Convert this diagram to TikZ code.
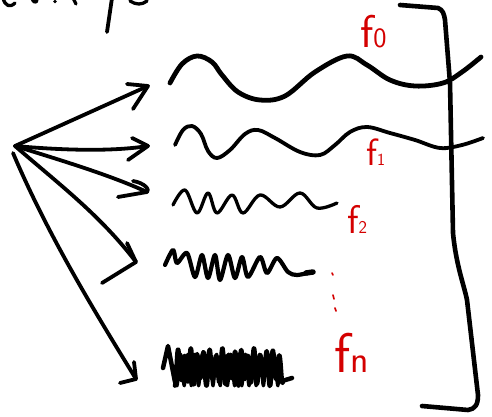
\documentclass[tikz,border=0pt]{standalone}
\usepackage{fontspec}
\definecolor{sketchred}{RGB}{212,0,0}
\begin{document}
\begin{tikzpicture}[x=1pt,y=-1pt, line cap=round, line join=round,
  ink/.style={draw=black, line width=3.8pt},
  thinink/.style={draw=black, line width=3.3pt},
  lbl/.style={text=sketchred, anchor=base west, inner sep=0pt, font=\sffamily},
  dotmark/.style={draw=sketchred, line width=1.6pt}]
\useasboundingbox[fill=white] (0,0) rectangle (492,417);

% cut-off handwriting at the top edge
\draw[thinink] (3,-2) .. controls (5,6) and (10,8) .. (15,3);
\draw[thinink] (32,-2) .. controls (33,2) and (35,3) .. (37,1);
\fill (55,1.5) circle (1.8);
\draw[thinink] (73,-2) -- (76,4);
\draw[ink] (112,-2) -- (107,32);
\draw[thinink] (130,1) .. controls (136,5) and (142,5) .. (147,1);

% source point and arrow tips
\coordinate (o) at (15,146);
\coordinate (t1) at (148,86);
\coordinate (t2) at (148,146);
\coordinate (t3) at (147,192);
\coordinate (t4) at (136,262);
\coordinate (t5) at (136,379);

\draw[ink] (o) -- (t1);
\draw[ink] (127,84) -- (t1) -- (133,109);
\draw[ink] (o) .. controls (60,150) and (110,152) .. (t2);
\draw[ink] (132,138) -- (t2) -- (128,160);
\draw[ink] (o) .. controls (60,160) and (110,175) .. (t3);
\draw[ink] (133,181) .. controls (145,183) and (150,190) .. (t3) -- (118,197);
\draw[ink] (o) .. controls (60,185) and (100,215) .. (t4);
\draw[ink] (127,243) -- (t4) -- (102,283);
\draw[ink] (13,153) .. controls (50,240) and (100,320) .. (t5);
\draw[ink] (134,362) -- (t5) -- (120,383);

% waves
\draw[ink, line width=4.8pt] plot[smooth, tension=0.6] coordinates {(170,83) (182,64) (197,56) (212,62) (222,75) (238,92) (260,100) (285,96) (315,72) (347,56) (367,65) (390,80) (415,86) (443,83) (462,72) (481,57)};
\draw[ink] plot[smooth, tension=0.6] coordinates {(175,145) (183,130) (192,126) (201,134) (208,151) (217,158) (230,150) (245,134) (258,130) (275,138) (300,152) (320,155) (335,145) (350,132) (367,127) (390,133) (415,140) (440,148) (462,145) (483,138)};
\draw[thinink] plot[smooth, tension=0.6] coordinates {(173,205) (185,190) (197,213) (208,193) (217,213) (232,195) (243,213) (260,195) (280,207) (300,193) (317,208) (337,203)};
\draw[ink, line width=4.2pt] plot[smooth, tension=0.5] coordinates {(165,265) (173,250) (177,263) (187,253) (195,277) (202,255) (208,278) (215,255) (220,280) (228,255) (235,278) (242,257) (248,277) (260,257) (267,273) (277,258) (288,272) (297,275) (312,272)};
\draw[ink, line width=5.5pt] (313,272) -- (306,273);
\draw[ink, line width=4.5pt] (163,368) -- (168,346) -- (175,382)
  plot[domain=175:283, samples=260] (\x, {367 + (15+4*sin(\x*23))*sin((\x-175)*57 + 90)}) -- (292,378);
\draw[ink, line width=3pt] plot[domain=176:280, samples=200] (\x, {370 + 16*sin((\x-176)*50 + 40)});

% bracket
\draw[ink, line width=4.6pt] (400,5) -- (438,8) .. controls (443,10) and (444,14) .. (445,20) -- (450,83) -- (453,233) .. controls (456,265) and (464,285) .. (467,300) -- (478,395) .. controls (478,405) and (475,409) .. (468,410) -- (422,406);

% labels
\node[lbl] (f0) at (360,48) {\fontsize{46}{46}\selectfont f\fontsize{28}{28}\selectfont 0};
\node[lbl] (f1) at (366,165) {\fontsize{38}{38}\selectfont f\fontsize{17}{17}\selectfont 1};
\node[lbl] (f2) at (347,233) {\fontsize{40}{40}\selectfont f\fontsize{18}{18}\selectfont 2};
\node[lbl] (fn) at (334,372) {\fontsize{56}{56}\selectfont f\fontsize{38}{38}\selectfont n};
\draw[dotmark] (332,273) -- (333,275);
\draw[dotmark] (333,295) -- (334,299);
\draw[dotmark] (335,308) -- (336,311);
\end{tikzpicture}
\end{document}
